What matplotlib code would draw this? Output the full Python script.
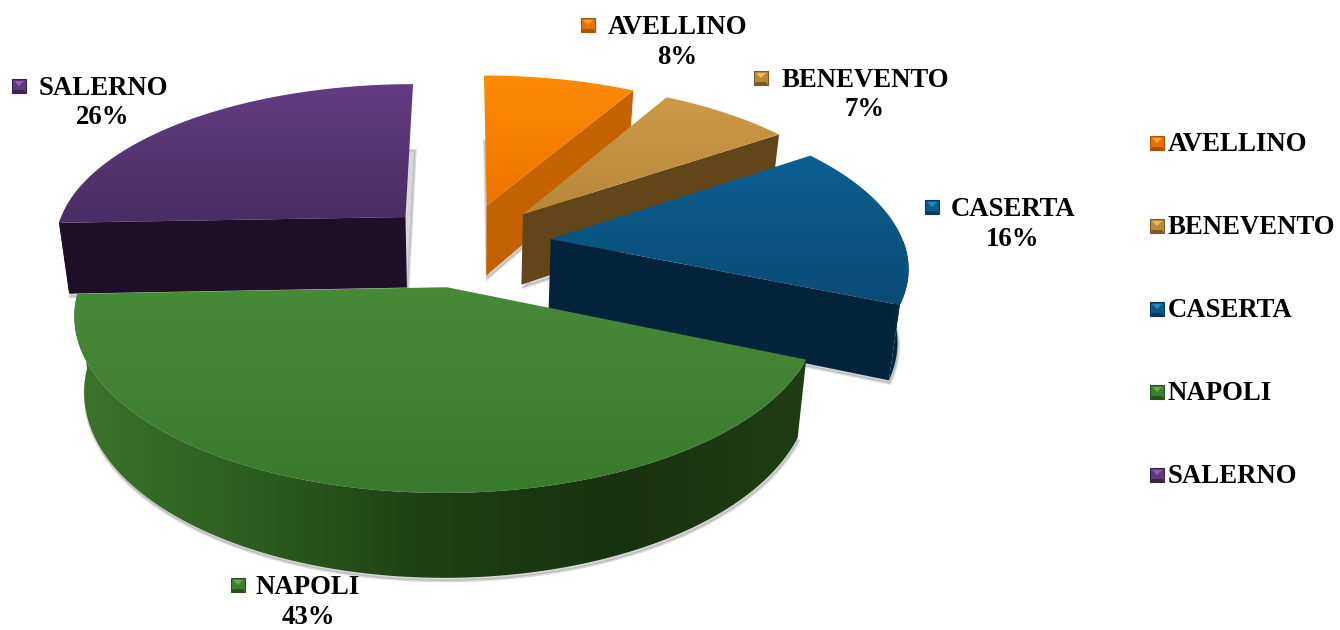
import numpy as np
import matplotlib
matplotlib.use("Agg")
import matplotlib.pyplot as plt
from matplotlib.patches import Polygon
from matplotlib.colors import LinearSegmentedColormap

plt.rcParams['font.family'] = ['Liberation Serif', 'DejaVu Serif']

# data
provinces = ['AVELLINO', 'BENEVENTO', 'CASERTA', 'NAPOLI', 'SALERNO']
# shares estimated from the slice edges, they round to the printed percentages
shares_read = [8.2, 7.15, 16.05, 43.0, 25.6]
percent_labels = ['8%', '7%', '16%', '43%', '26%']

# colours per slice: top face, cut face, outer wall left to right
top_cols = [('#ff8a05', '#ee7400'), ('#cb9a48', '#b9873a'), ('#0c5f92', '#0a4c76'),
            ('#478a38', '#3a7a2e'), ('#633c82', '#492d63')]
cut_cols = ['#c46200', '#624519', '#03233b', '#1c3a12', '#1f102a']
wall_cols = [('#c46200', '#a85300'), ('#6b4c1e', '#5a3f17'), ('#03233b', '#04304f'),
             ('#3b7429', '#2c5c1e', '#1d3f13', '#18330f', '#1f3d14'), ('#24132f', '#1c0e26')]
marker_cols = [('#ffa030', '#e87000', '#a85300'), ('#e8bb60', '#b98a3e', '#7a5a26'),
               ('#2a86c0', '#0b5a8c', '#063a5c'), ('#5fb048', '#3d7f2e', '#25521b'),
               ('#8a62aa', '#5f3a7c', '#3a2250')]

# label placement in pixels: marker x, text centre x, first line y
label_pos = [(588, 677, 26), (761, 865, 79), (932, 1013, 208), (238, 308, 586), (19, 103, 87)]
legend_x = 1149
legend_y = [143, 226, 309, 392, 475]
font_size = 19.3

# projection of the disc
cx, cy = 465, 243
rad_x, rad_y = 353, 160
persp = 0.15
explode = [0.25, 0.25, 0.245, 0.27, 0.24]
depth = 72
depth_persp = 0.12
bottom_shrink = 0.975


def project(X, Y, lower=False):
    f = 1 + persp * Y
    px = rad_x * X / f
    py = cy - rad_y * Y / f
    if lower:
        px = px * bottom_shrink
        py = py + depth / (1 + depth_persp * Y)
    return np.column_stack([cx + px, py])


def gradient_fill(ax, pts, cols, angle=90, zorder=2):
    # gradient clipped to polygon, angle 90 = top to bottom, 0 = left to right
    cmap = LinearSegmentedColormap.from_list('g', list(cols))
    x0, y0 = pts.min(axis=0)
    x1, y1 = pts.max(axis=0)
    u, v = np.meshgrid(np.linspace(0, 1, 64), np.linspace(0, 1, 64))
    t = np.cos(np.radians(angle)) * u + np.sin(np.radians(angle)) * v
    t = (t - t.min()) / (t.max() - t.min())
    im = ax.imshow(t, extent=(x0, x1, y1, y0), cmap=cmap, aspect='auto',
                   interpolation='bilinear', zorder=zorder)
    poly = Polygon(pts, closed=True, facecolor='none', edgecolor='none', transform=ax.transData)
    ax.add_patch(poly)
    im.set_clip_path(poly)


def draw_marker(ax, x, y, cols, size=14, zorder=6):
    s = size / 2
    light, mid, dark = cols
    ctr = (x, y)
    tl, tr, br, bl = (x - s, y - s), (x + s, y - s), (x + s, y + s), (x - s, y + s)
    ax.add_patch(Polygon([tl, tr, br, bl], facecolor=mid, edgecolor=dark, lw=0.8, zorder=zorder))
    ax.add_patch(Polygon([(x - s + 2, y - s + 2), (x + s - 2, y - s + 2), ctr], facecolor=light,
                         edgecolor='none', zorder=zorder))
    ax.add_patch(Polygon([bl, br, (x + s - 2, y + s - 3), (x - s + 2, y + s - 3)], facecolor=dark,
                         edgecolor='none', zorder=zorder))


fig = plt.figure(figsize=(13.4, 6.3), dpi=100)
ax = fig.add_axes([0, 0, 1, 1])

shares = np.array(shares_read) / sum(shares_read) * 2 * np.pi
ends = np.cumsum(shares)
starts = ends - shares

# back slices first
for i in [0, 4, 1, 2, 3]:
    mid = (starts[i] + ends[i]) / 2
    ex, ey = explode[i] * np.sin(mid), explode[i] * np.cos(mid)
    th = np.linspace(starts[i], ends[i], 160)
    X = ex + np.sin(th)
    Y = ey + np.cos(th)
    apex_top = project(np.array([ex]), np.array([ey]))
    apex_low = project(np.array([ex]), np.array([ey]), lower=True)
    arc_top = project(X, Y)
    arc_low = project(X, Y, lower=True)

    # soft shadow behind everything
    top = np.vstack([apex_top, arc_top])
    low_shape = np.vstack([apex_low, arc_low])
    ax.add_patch(Polygon(low_shape + [1, 3], facecolor='#808080', alpha=0.3, edgecolor='#808080',
                         lw=2, zorder=1))

    # cut faces, only the ones turned to the viewer
    if np.sin(starts[i]) < -1e-6:
        quad = np.vstack([apex_top, arc_top[0], arc_low[0], apex_low])
        ax.add_patch(Polygon(quad, facecolor=cut_cols[i], edgecolor='none', zorder=2))
    if np.sin(ends[i]) > 1e-6:
        quad = np.vstack([apex_top, arc_top[-1], arc_low[-1], apex_low])
        ax.add_patch(Polygon(quad, facecolor=cut_cols[i], edgecolor='none', zorder=2))

    # outer wall, front part of the arc only
    front = np.cos(th) < 0
    if front.any():
        wall = np.vstack([arc_top[front], arc_low[front][::-1]])
        gradient_fill(ax, wall, wall_cols[i], angle=0, zorder=2)

    # top face
    gradient_fill(ax, top, top_cols[i], angle=90, zorder=2)

# labels
for i, name in enumerate(provinces):
    mx, tx, ty = label_pos[i]
    draw_marker(ax, mx, ty - 1, marker_cols[i])
    ax.text(tx, ty + 8, name, ha='center', va='baseline', fontsize=font_size, fontweight='bold',
            color='black', zorder=7)
    ax.text(tx, ty + 37.5, percent_labels[i], ha='center', va='baseline', fontsize=font_size,
            fontweight='bold', color='black', zorder=7)

# legend
for i, name in enumerate(provinces):
    draw_marker(ax, legend_x + 8, legend_y[i], marker_cols[i])
    ax.text(legend_x + 19, legend_y[i] + 8, name, ha='left', va='baseline', fontsize=font_size,
            fontweight='bold', color='black', zorder=7)

ax.set_xlim(0, 1340)
ax.set_ylim(630, 0)
ax.axis('off')

plt.savefig('out.png', dpi=100)
